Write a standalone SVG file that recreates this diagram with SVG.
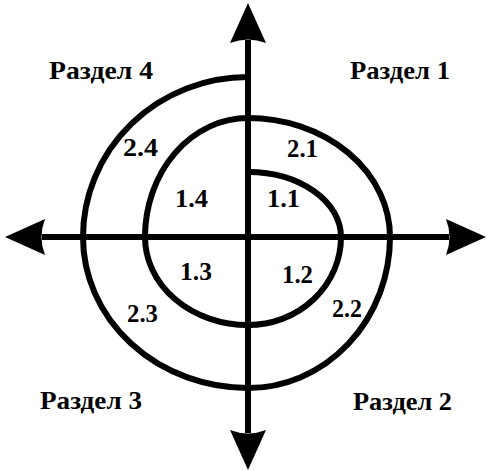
<svg xmlns="http://www.w3.org/2000/svg" width="487" height="471" viewBox="0 0 487 471">
<style>
.ln{stroke:#000;stroke-width:6;fill:none}
</style>
<defs>
<marker id="ah" markerUnits="userSpaceOnUse" viewBox="-6 -20 44 40" markerWidth="44" markerHeight="40" refX="0" refY="0" orient="auto-start-reverse">
<path d="M37,0 L-3,-18 Q4,0 -3,18 Z" fill="#000"/>
</marker>
</defs>
<g id="connectors">
<line id="axis-v" class="ln" x1="248" y1="433" x2="248" y2="40" marker-start="url(#ah)" marker-end="url(#ah)"/>
<line id="axis-h" class="ln" x1="42" y1="237" x2="449" y2="237" marker-start="url(#ah)" marker-end="url(#ah)"/>
<path id="spiral" class="ln" d="M248,172 A93,65 0 0 1 341,237 A93,88 0 0 1 248,325 A103,88 0 0 1 145,237 A103,119 0 0 1 248,118 A142,119 0 0 1 390,237 A142,151 0 0 1 248,388 A165,151 0 0 1 83,237 A165,160 0 0 1 248,77"/>
</g>
<g font-family="Liberation Serif, Times New Roman, serif" font-weight="bold" font-size="26" fill="#000">
<g id="section4"><text x="49" y="79" textLength="104" lengthAdjust="spacingAndGlyphs">Раздел 4</text></g>
<g id="section1"><text x="350" y="79" textLength="100" lengthAdjust="spacingAndGlyphs">Раздел 1</text></g>
<g id="section3"><text x="40" y="409" textLength="102" lengthAdjust="spacingAndGlyphs">Раздел 3</text></g>
<g id="section2"><text x="353" y="410" textLength="99" lengthAdjust="spacingAndGlyphs">Раздел 2</text></g>
<g id="l24"><text x="123" y="156" textLength="35" lengthAdjust="spacingAndGlyphs">2.4</text></g>
<g id="l21"><text x="287" y="157" textLength="31" lengthAdjust="spacingAndGlyphs">2.1</text></g>
<g id="l14"><text x="175" y="207" textLength="33" lengthAdjust="spacingAndGlyphs">1.4</text></g>
<g id="l11"><text x="267" y="207" textLength="33" lengthAdjust="spacingAndGlyphs">1.1</text></g>
<g id="l13"><text x="180" y="280" textLength="32" lengthAdjust="spacingAndGlyphs">1.3</text></g>
<g id="l12"><text x="282" y="283" textLength="31" lengthAdjust="spacingAndGlyphs">1.2</text></g>
<g id="l23"><text x="127" y="322" textLength="31" lengthAdjust="spacingAndGlyphs">2.3</text></g>
<g id="l22"><text x="332" y="317" textLength="30" lengthAdjust="spacingAndGlyphs">2.2</text></g>
</g>
</svg>
